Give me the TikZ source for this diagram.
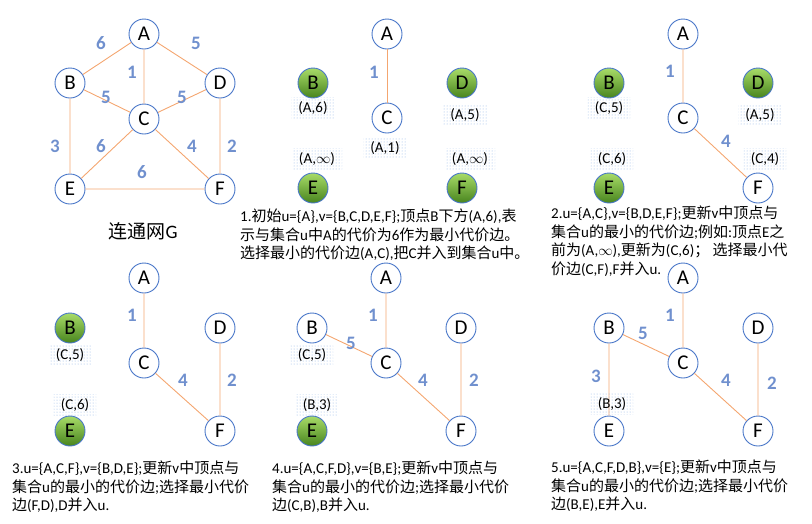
\documentclass[tikz,border=0pt]{standalone}
\usepackage{fontspec}
\setmainfont{Carlito}
\newfontfamily\zhfont{Noto Sans CJK SC}
\newcommand{\zh}[1]{{\zhfont #1}}
\usepackage{tikz}
\usetikzlibrary{patterns}
\definecolor{edgeorange}{RGB}{244,166,112}
\definecolor{nodeblue}{RGB}{72,118,200}
\definecolor{wtblue}{RGB}{112,144,206}
\definecolor{greentop}{RGB}{168,220,104}
\definecolor{greenbot}{RGB}{72,132,30}
\definecolor{dotblue}{RGB}{140,178,228}

\begin{document}
\begin{tikzpicture}[x=1pt,y=-1pt,
            vtx/.style={circle,draw=nodeblue,line width=0.9pt,fill=white,minimum size=30pt,inner sep=0pt,font=\fontsize{21}{21}\selectfont},
            gvtx/.style={vtx,top color=greentop,bottom color=greenbot},
            edg/.style={draw=edgeorange,line width=0.9pt},
            wt/.style={text=wtblue,font=\fontsize{19}{19}\selectfont\bfseries},
            lbl/.style={pattern=dots,pattern color=dotblue,inner xsep=7pt,inner ysep=4pt,font=\fontsize{15}{15}\selectfont},
            note/.style={anchor=north west,inner sep=0pt,align=left,font=\fontsize{15}{18.5}\selectfont}]
            \useasboundingbox (0,0) rectangle (812,523);

            \node[vtx] (a0) at (144,34) {A};
            \node[vtx] (b0) at (70,83) {B};
            \node[vtx] (d0) at (220,83) {D};
            \node[vtx] (c0) at (144,119) {C};
            \node[vtx] (e0) at (70,189) {E};
            \node[vtx] (f0) at (220,189) {F};
            \draw[edg] (a0)--(b0) (a0)--(d0) (a0)--(c0) (b0)--(c0) (d0)--(c0);
            \draw[edg] (b0)--(e0) (c0)--(e0) (c0)--(f0) (d0)--(f0) (e0)--(f0);
            \node[wt] (w0ab) at (101,43) {6};
            \node[wt] (w0ad) at (196,43) {5};
            \node[wt] (w0ac) at (132,72) {1};
            \node[wt] (w0bc) at (106,97) {5};
            \node[wt] (w0dc) at (182,97) {5};
            \node[wt] (w0be) at (55,146) {3};
            \node[wt] (w0ce) at (101,146) {6};
            \node[wt] (w0cf) at (192,146) {4};
            \node[wt] (w0df) at (232,146) {2};
            \node[wt] (w0ef) at (142,172) {6};
            \node[font=\fontsize{19}{19}\selectfont] (g0) at (143,231) {\zh{连通网}G};

            \node[vtx] (a1) at (387,34) {A};
            \node[gvtx] (b1) at (313,83) {B};
            \node[gvtx] (d1) at (462,83) {D};
            \node[vtx] (c1) at (387,118) {C};
            \node[gvtx] (e1) at (313,188) {E};
            \node[gvtx] (f1) at (462,188) {F};
            \draw[edg] (a1)--(c1);
            \node[wt] (w1ac) at (374,72) {1};
            \node[lbl] (l1b) at (313,108) {(A,6)};
            \node[lbl] (l1d) at (465,115) {(A,5)};
            \node[lbl] (l1c) at (385,148) {(A,1)};
            \node[lbl] (l1e) at (317,159) {(A,$\infty$)};
            \node[lbl] (l1f) at (470,159) {(A,$\infty$)};
            \node[note] (t1) at (240,209) {1.\zh{初始}u=\{A\},v=\{B,C,D,E,F\};\zh{顶点}B\zh{下方}(A,6),\zh{表}\\
            \zh{示与集合}u\zh{中}A\zh{的代价为}6\zh{作为最小代价边。}\\
            \zh{选择最小的代价边}(A,C),\zh{把}C\zh{并入到集合}u\zh{中。}};

            \node[vtx] (a2) at (683,34) {A};
            \node[gvtx] (b2) at (609,83) {B};
            \node[gvtx] (d2) at (758,83) {D};
            \node[vtx] (c2) at (683,118) {C};
            \node[gvtx] (e2) at (609,188) {E};
            \node[vtx] (f2) at (758,188) {F};
            \draw[edg] (a2)--(c2) (c2)--(f2);
            \node[wt] (w2ac) at (670,71) {1};
            \node[wt] (w2cf) at (726,141) {4};
            \node[lbl] (l2b) at (609,108) {(C,5)};
            \node[lbl] (l2d) at (760,115) {(A,5)};
            \node[lbl] (l2e) at (612,159) {(C,6)};
            \node[lbl] (l2f) at (765,159) {(C,4)};
            \node[note] (t2) at (551,206) {2.u=\{A,C\},v=\{B,D,E,F\};\zh{更新}v\zh{中顶点与}\\
            \zh{集合}u\zh{的最小的代价边};\zh{例如}:\zh{顶点}E\zh{之}\\
            \zh{前为}(A,$\infty$),\zh{更新为}(C,6)\zh{；}\ \zh{选择最小代}\\
            \zh{价边}(C,F),F\zh{并入}u.};

            \node[vtx] (a3) at (144,278) {A};
            \node[gvtx] (b3) at (70,328) {B};
            \node[vtx] (d3) at (220,328) {D};
            \node[vtx] (c3) at (144,363) {C};
            \node[gvtx] (e3) at (70,431) {E};
            \node[vtx] (f3) at (220,431) {F};
            \draw[edg] (a3)--(c3) (c3)--(f3) (d3)--(f3);
            \node[wt] (w3ac) at (132,315) {1};
            \node[wt] (w3cf) at (183,380) {4};
            \node[wt] (w3df) at (232,380) {2};
            \node[lbl] (l3b) at (70,355) {(C,5)};
            \node[lbl] (l3e) at (75,405) {(C,6)};
            \node[note] (t3) at (12,461) {3.u=\{A,C,F\},v=\{B,D,E\};\zh{更新}v\zh{中顶点与}\\
            \zh{集合}u\zh{的最小的代价边};\zh{选择最小代价}\\
            \zh{边}(F,D),D\zh{并入}u.};

            \node[vtx] (a4) at (386,278) {A};
            \node[vtx] (b4) at (312,328) {B};
            \node[vtx] (d4) at (461,328) {D};
            \node[vtx] (c4) at (386,363) {C};
            \node[gvtx] (e4) at (312,431) {E};
            \node[vtx] (f4) at (461,431) {F};
            \draw[edg] (a4)--(c4) (b4)--(c4) (c4)--(f4) (d4)--(f4);
            \node[wt] (w4ac) at (373,315) {1};
            \node[wt] (w4bc) at (351,343) {5};
            \node[wt] (w4cf) at (423,380) {4};
            \node[wt] (w4df) at (474,380) {2};
            \node[lbl] (l4b) at (312,355) {(C,5)};
            \node[lbl] (l4e) at (317,405) {(B,3)};
            \node[note] (t4) at (272,461) {4.u=\{A,C,F,D\},v=\{B,E\};\zh{更新}v\zh{中顶点与}\\
            \zh{集合}u\zh{的最小的代价边};\zh{选择最小代价}\\
            \zh{边}(C,B),B\zh{并入}u.};

            \node[vtx] (a5) at (683,278) {A};
            \node[vtx] (b5) at (609,328) {B};
            \node[vtx] (d5) at (758,328) {D};
            \node[vtx] (c5) at (683,363) {C};
            \node[vtx] (e5) at (609,431) {E};
            \node[vtx] (f5) at (758,431) {F};
            \draw[edg] (a5)--(c5) (b5)--(c5) (c5)--(f5) (d5)--(f5) (b5)--(e5);
            \node[wt] (w5ac) at (670,315) {1};
            \node[wt] (w5bc) at (643,333) {5};
            \node[wt] (w5be) at (596,376) {3};
            \node[wt] (w5cf) at (726,380) {4};
            \node[wt] (w5df) at (772,383) {2};
            \node[lbl] (l5e) at (612,404) {(B,3)};
            \node[note] (t5) at (551,460) {5.u=\{A,C,F,D,B\},v=\{E\};\zh{更新}v\zh{中顶点与}\\
            \zh{集合}u\zh{的最小的代价边};\zh{选择最小代价}\\
            \zh{边}(B,E),E\zh{并入}u.};
        \end{tikzpicture}
\end{document}
